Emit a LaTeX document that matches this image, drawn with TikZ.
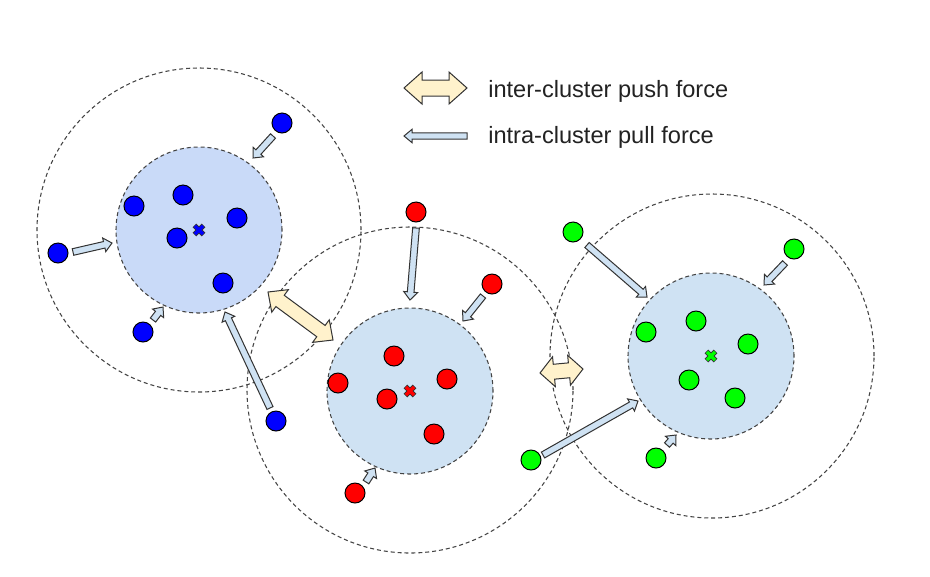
\documentclass[tikz,border=0pt]{standalone}
\usepackage{fontspec}
\setmainfont{Liberation Sans}
\usetikzlibrary{calc}
\definecolor{bluefill}{HTML}{C9DAF8}
\definecolor{clfill}{HTML}{CFE2F3}
\definecolor{pullfill}{HTML}{CFE2F3}
\definecolor{pushfill}{HTML}{FFF2CC}
\definecolor{edgec}{HTML}{333333}
\definecolor{dashc}{HTML}{444444}
\definecolor{dotblue}{HTML}{0000FF}
\definecolor{dotred}{HTML}{FF0000}
\definecolor{dotgreen}{HTML}{00FF00}
\definecolor{txtc}{HTML}{222222}
% single fat arrow: style, from, to, half shaft, half head, head length
\newcommand{\singlefat}[6]{%
  \path ($(#3)!#6!(#2)$) coordinate (faq);
  \draw[#1] ($(#2)!#4!90:(#3)$) -- ($(faq)!#4!90:(#3)$) -- ($(faq)!#5!90:(#3)$)
    -- (#3) -- ($(faq)!#5!-90:(#3)$) -- ($(faq)!#4!-90:(#3)$)
    -- ($(#2)!#4!-90:(#3)$) -- cycle;}
% double fat arrow
\newcommand{\doublefat}[6]{%
  \path ($(#2)!#6!(#3)$) coordinate (fqa) ($(#3)!#6!(#2)$) coordinate (fqb);
  \draw[#1] (#2) -- ($(fqa)!#5!90:(#3)$) -- ($(fqa)!#4!90:(#3)$)
    -- ($(fqb)!#4!90:(#3)$) -- ($(fqb)!#5!90:(#3)$) -- (#3)
    -- ($(fqb)!#5!-90:(#3)$) -- ($(fqb)!#4!-90:(#3)$)
    -- ($(fqa)!#4!-90:(#3)$) -- ($(fqa)!#5!-90:(#3)$) -- cycle;}
% cluster centre cross
\newcommand{\clcross}[2]{%
  \draw[line width=3.9pt,edgec] ($(#1)+(-4.6,-4.6)$) -- ($(#1)+(4.6,4.6)$) ($(#1)+(-4.6,4.6)$) -- ($(#1)+(4.6,-4.6)$);
  \draw[line width=2.6pt,#2] ($(#1)+(-4.1,-4.1)$) -- ($(#1)+(4.1,4.1)$) ($(#1)+(-4.1,4.1)$) -- ($(#1)+(4.1,-4.1)$);}
\tikzset{
  dashline/.style={draw=dashc,line width=0.8pt,dash pattern=on 3pt off 2.2pt},
  outercl/.style={circle,dashline,minimum size=243pt,inner sep=0pt},
  innercl/.style={circle,dashline,minimum size=124.5pt,inner sep=0pt},
  pt/.style={circle,draw=black,line width=0.75pt,minimum size=15pt,inner sep=0pt},
  pullarr/.style={draw=edgec,fill=pullfill,line width=0.75pt,line join=miter},
  pusharr/.style={draw=edgec,fill=pushfill,line width=0.75pt,line join=miter},
  legtext/.style={text=txtc,font=\fontsize{17.7}{20}\selectfont,inner sep=0pt,anchor=base west}
}
\begin{document}
\begin{tikzpicture}[x=0.75pt,y=-0.75pt]
\useasboundingbox (0,0) rectangle (930,576);
% clusters
\node[innercl,fill=bluefill] (bin) at (199,230) {};
\node[innercl,fill=clfill] (rin) at (410,391) {};
\node[innercl,fill=clfill] (gin) at (711,356) {};
\node[outercl] (bout) at (199,230) {};
\node[outercl,minimum size=244.5pt] (rout) at (410,390) {};
\node[outercl] (gout) at (712,356) {};
% points
\foreach \n/\x/\y in {b1/282/123,b2/183/195,b3/134/206,b4/237/218,b5/177/238,b6/223/283,b7/58/253,b8/143/332,b9/276/421}
  \node[pt,fill=dotblue] (\n) at (\x,\y) {};
\foreach \n/\x/\y in {r1/416/212,r2/492/284,r3/394/356,r4/338/383,r5/447/379,r6/387/399,r7/434/434,r8/355/493}
  \node[pt,fill=dotred] (\n) at (\x,\y) {};
\foreach \n/\x/\y in {g1/573/232,g2/794/249,g3/696/321,g4/646/332,g5/748/344,g6/689/380,g7/735/398,g8/656/458,g9/531/460}
  \node[pt,fill=dotgreen] (\n) at (\x,\y) {};
% crosses
\clcross{bin}{dotblue}
\clcross{rin}{dotred}
\clcross{gin}{dotgreen}
% arrow end coordinates
\coordinate (pb1a) at (273,136); \coordinate (pb1b) at (253,158);
\coordinate (pb7a) at (73,252);  \coordinate (pb7b) at (112,243);
\coordinate (pb8a) at (153,320); \coordinate (pb8b) at (163,307);
\coordinate (pb9a) at (270,408); \coordinate (pb9b) at (225,312);
\coordinate (pr1a) at (416,228); \coordinate (pr1b) at (410,300);
\coordinate (pr2a) at (483,296); \coordinate (pr2b) at (463,321);
\coordinate (pr8a) at (366,482); \coordinate (pr8b) at (375,468);
\coordinate (pg1a) at (587,245); \coordinate (pg1b) at (647,297);
\coordinate (pg2a) at (785,263); \coordinate (pg2b) at (764,285);
\coordinate (pg9a) at (543,455); \coordinate (pg9b) at (638,401);
\coordinate (pg8a) at (667,445); \coordinate (pg8b) at (676,435);
\coordinate (brA) at (268,292); \coordinate (brB) at (333,340);
\coordinate (rgA) at (540,373); \coordinate (rgB) at (583,369);
\coordinate (lpushA) at (404,88); \coordinate (lpushB) at (467,88);
\coordinate (lpullA) at (467,136); \coordinate (lpullB) at (404,136);
% pull arrows
\foreach \p in {pb1,pb7,pb8,pb9,pr1,pr2,pr8,pg1,pg2,pg9,pg8}
  {\singlefat{pullarr}{\p a}{\p b}{2.5pt}{5.25pt}{6pt}}
% push arrows
\doublefat{pusharr}{brA}{brB}{5.25pt}{10.5pt}{11.25pt}
\doublefat{pusharr}{rgA}{rgB}{5.6pt}{11.25pt}{10.5pt}
% legend
\doublefat{pusharr}{lpushA}{lpushB}{6pt}{12pt}{13.5pt}
\singlefat{pullarr}{lpullA}{lpullB}{2.4pt}{5pt}{6pt}
\node[legtext] (t1) at (488,97) {inter-cluster push force};
\node[legtext] (t2) at (488,143) {intra-cluster pull force};
\end{tikzpicture}
\end{document}
